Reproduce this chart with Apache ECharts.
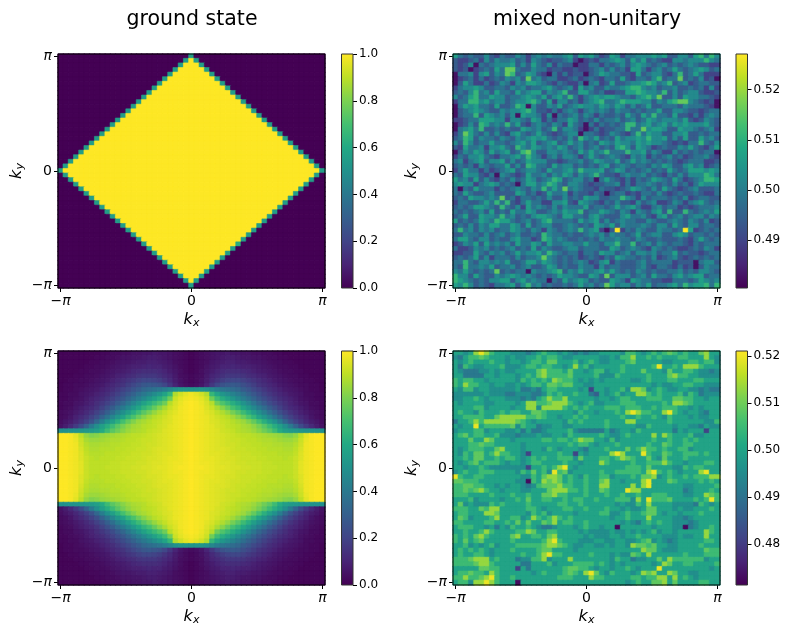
<!DOCTYPE html>
<html>
<head>
<meta charset="utf-8">
<style>html,body{margin:0;padding:0;background:#fff}#chart{width:789px;height:635px}</style>
<script src="https://cdn.jsdelivr.net/npm/echarts@6/dist/echarts.min.js"></script>
</head>
<body>
<div id="chart"></div>
<script>
// cell values, rows top to bottom, one digit per cell (index into the panel's levels)
var groundRows = [
"0000000000 0000000000 0000050000 0000000000 0000000000 0",
"0000000000 0000000000 0000595000 0000000000 0000000000 0",
"0000000000 0000000000 0005999500 0000000000 0000000000 0",
"0000000000 0000000000 0059999950 0000000000 0000000000 0",
"0000000000 0000000000 0599999995 0000000000 0000000000 0",
"0000000000 0000000000 5999999999 5000000000 0000000000 0",
"0000000000 0000000005 9999999999 9500000000 0000000000 0",
"0000000000 0000000059 9999999999 9950000000 0000000000 0",
"0000000000 0000000599 9999999999 9995000000 0000000000 0",
"0000000000 0000005999 9999999999 9999500000 0000000000 0",
"0000000000 0000059999 9999999999 9999950000 0000000000 0",
"0000000000 0000599999 9999999999 9999995000 0000000000 0",
"0000000000 0005999999 9999999999 9999999500 0000000000 0",
"0000000000 0059999999 9999999999 9999999950 0000000000 0",
"0000000000 0599999999 9999999999 9999999995 0000000000 0",
"0000000000 5999999999 9999999999 9999999999 5000000000 0",
"0000000005 9999999999 9999999999 9999999999 9500000000 0",
"0000000059 9999999999 9999999999 9999999999 9950000000 0",
"0000000599 9999999999 9999999999 9999999999 9995000000 0",
"0000005999 9999999999 9999999999 9999999999 9999500000 0",
"0000059999 9999999999 9999999999 9999999999 9999950000 0",
"0000599999 9999999999 9999999999 9999999999 9999995000 0",
"0005999999 9999999999 9999999999 9999999999 9999999500 0",
"0059999999 9999999999 9999999999 9999999999 9999999950 0",
"0599999999 9999999999 9999999999 9999999999 9999999995 0",
"5999999999 9999999999 9999999999 9999999999 9999999999 5",
"0599999999 9999999999 9999999999 9999999999 9999999995 0",
"0059999999 9999999999 9999999999 9999999999 9999999950 0",
"0005999999 9999999999 9999999999 9999999999 9999999500 0",
"0000599999 9999999999 9999999999 9999999999 9999995000 0",
"0000059999 9999999999 9999999999 9999999999 9999950000 0",
"0000005999 9999999999 9999999999 9999999999 9999500000 0",
"0000000599 9999999999 9999999999 9999999999 9995000000 0",
"0000000059 9999999999 9999999999 9999999999 9950000000 0",
"0000000005 9999999999 9999999999 9999999999 9500000000 0",
"0000000000 5999999999 9999999999 9999999999 5000000000 0",
"0000000000 0599999999 9999999999 9999999995 0000000000 0",
"0000000000 0059999999 9999999999 9999999950 0000000000 0",
"0000000000 0005999999 9999999999 9999999500 0000000000 0",
"0000000000 0000599999 9999999999 9999995000 0000000000 0",
"0000000000 0000059999 9999999999 9999950000 0000000000 0",
"0000000000 0000005999 9999999999 9999600000 0000000000 0",
"0000000000 0000000599 9999999999 9995000000 0000000000 0",
"0000000000 0000000059 9999999999 9950000000 0000000000 0",
"0000000000 0000000005 9999999999 9500000000 0000000000 0",
"0000000000 0000000000 5999999999 5000000000 0000000000 0",
"0000000000 0000000000 0599999995 0000000000 0000000000 0",
"0000000000 0000000000 0059999950 0000000000 0000000000 0",
"0000000000 0000000000 0005999500 0000000000 0000000000 0",
"0000000000 0000000000 0000595000 0000000000 0000000000 0",
"0000000000 0000000000 0000050000 0000000000 0000000000 0"
];
// upper left quarter of the lower left panel in percent, the picture mirrors it both ways
var quenchQuarter = [
[1,1,1,1,1,1,1,1,2,2,3,3,4,4,5,5,6,6,7,6,6,5,4,3,2,1],
[1,1,1,1,1,1,1,2,2,3,3,4,5,5,6,6,7,8,8,7,6,5,4,3,2,1],
[1,1,1,1,1,1,2,2,3,3,4,5,6,6,7,8,8,9,9,8,7,6,4,3,2,1],
[1,1,1,1,1,2,2,3,3,4,5,6,7,8,9,9,10,11,10,10,8,7,5,3,2,1],
[1,1,1,1,2,2,3,3,4,5,6,7,8,9,11,12,13,13,13,12,10,8,6,4,2,1],
[1,1,1,2,2,3,3,4,5,6,7,9,10,12,13,15,16,16,16,14,12,10,7,4,3,2],
[1,1,2,2,3,3,4,5,6,7,9,11,13,15,17,19,21,21,20,18,15,12,8,5,3,2],
[1,2,2,3,3,4,5,6,7,9,11,13,15,18,21,24,27,28,27,25,21,16,10,6,4,3],
[1,2,2,3,4,5,6,7,9,11,13,16,19,22,26,29,33,35,37,39,42,46,50,52,52,52],
[2,2,3,3,5,6,7,9,11,13,16,19,23,27,31,36,40,44,48,52,58,66,88,93,96,98],
[2,2,3,4,5,7,9,11,13,16,19,23,27,32,37,42,47,52,57,62,68,78,92,96,98,99],
[2,3,3,5,6,8,10,13,16,19,23,28,33,39,45,51,57,62,67,72,78,89,94,97,99,100],
[2,3,4,6,8,10,12,15,19,24,29,35,41,47,53,59,65,70,76,82,87,92,95,98,99,100],
[3,4,5,7,9,12,15,19,24,30,36,43,49,55,62,68,74,79,84,88,91,94,96,98,99,100],
[3,4,6,9,12,15,19,24,31,38,45,52,58,65,71,77,82,86,89,91,93,95,97,98,99,100],
[4,6,8,11,15,19,25,33,42,50,56,63,70,76,81,85,87,89,91,92,94,95,97,98,99,100],
[5,8,12,17,23,31,41,49,56,62,68,74,79,83,86,87,89,90,91,93,94,96,97,98,99,100],
[50,50,51,51,52,53,54,56,61,68,74,78,82,85,87,88,89,91,92,93,95,96,97,98,99,100],
[100,100,99,96,90,84,81,82,84,85,86,87,88,89,90,90,91,92,93,94,95,96,97,98,99,100],
[100,100,99,97,92,87,85,85,86,87,88,88,89,90,90,91,92,92,93,94,95,96,97,98,99,100],
[100,100,99,98,93,89,87,87,88,88,89,89,90,90,91,91,92,93,93,94,95,96,97,98,99,100],
[100,100,99,98,94,90,88,88,89,89,89,90,90,91,91,92,92,93,94,95,95,96,97,98,99,100],
[100,100,99,98,95,91,89,89,89,90,90,90,91,91,92,92,93,93,94,95,96,96,97,98,99,100],
[100,100,99,98,95,92,90,89,90,90,90,91,91,92,92,92,93,94,94,95,96,97,97,98,99,100],
[100,100,99,98,96,92,90,90,90,90,91,91,92,92,92,93,93,94,95,95,96,97,98,98,99,100],
[100,100,99,98,96,92,90,90,90,91,91,91,92,92,93,93,94,94,95,96,96,97,98,99,99,100]
];
var mixedTopRows = [
"5323224213 2243134343 3452545312 5413344454 5224425636 4",
"2112314243 3423143212 2341012133 4542535232 1144344464 3",
"2124032344 4524253241 3220113313 2342454323 4232343221 1",
"2120123253 7732243312 2112112342 4231553134 2353234542 3",
"0334145243 7623542103 1312202354 3322152344 2136235311 1",
"0123131232 4342734233 1123123213 3252133246 2337232412 0",
"0253113124 3143554321 3211303412 5223445653 4623412332 2",
"1344542233 2434233453 2341534224 3345664342 3342232314 1",
"2324634253 3253455243 4622553231 1225565443 6242344211 2",
"4235633544 2334543524 5363134545 5433245647 2242544332 1",
"1336645344 2344564251 4423134563 3465554424 3567743212 0",
"0354533252 2365042243 5234544354 3542423522 3332433321 0",
"0234543224 3445642213 1343134343 2433232335 2244322123 3",
"0233625434 2405443140 3234243132 2325325363 3252213134 3",
"1123355544 1443254131 3354232423 3423423543 4443521243 2",
"0124265343 6352134324 3153203132 3236634534 5354544453 2",
"0345362232 3225434236 2443101312 2336337455 4225443234 1",
"1375324242 1453235321 2344033212 4321363544 2244522323 3",
"2365243324 3243454532 3242643523 2534454644 5242522534 2",
"4264233533 2345352345 2353423254 3544354544 3212133632 4",
"2153341445 3264354343 5423423423 2564254312 3224353213 5",
"0243542534 5236742244 3432535346 3336445243 1142323233 0",
"1324453213 3453643134 2443135323 4321434132 3423123342 1",
"3413452445 2423544422 1233423543 3523534323 2321233311 2",
"2323143233 5242653325 3442323245 2343233243 5422453412 3",
"1353313123 4523443253 3453644452 3542323423 2532355545 4",
"3254421304 3212533424 3542434632 2134334232 1324244465 3",
"5342524213 2423542346 5234423035 3213132354 3253123466 5",
"4544134542 3203553465 3244321223 3413133432 3242313544 4",
"3032533313 2343243635 3734322132 2123543242 5321234222 3",
"3253223422 2254231253 3413221320 2331213324 2123223211 3",
"2325443437 2313323242 2423254422 3364314233 3232412332 2",
"1332235363 6213533114 4521543213 2422142341 1243134532 3",
"2323554326 3241534324 2433352332 3534531134 2331212333 4",
"3232342523 2533542234 3544623354 3243143245 2622632343 5",
"2352254436 3423245543 2553324532 2245334214 5234234424 3",
"5232354365 5323423563 3332534524 2343322432 2343243241 2",
"2324243553 3542523442 2343232543 5243334324 4253244233 2",
"3634243423 3543243143 2343634510 2913243224 3323951232 3",
"2243324234 2342232643 3232234342 4332352344 2245423323 2",
"3553244232 2453312653 4322323243 3433243223 2223213532 3",
"1243525343 4253354253 3443353324 4633623424 3233213233 3",
"3112434232 3423252432 2344233322 5423432143 2321123243 1",
"1122532434 2353445364 3233133254 4234244342 3352322123 3",
"2323524133 3242334743 2323123213 2543323241 2342123232 3",
"3363244343 5223553543 2323431245 1322234233 3312220344 2",
"3263343523 3423422354 2322433142 3322234213 3213120243 3",
"4353232372 3233043345 6243533453 5323243232 2334232443 2",
"6442532243 4543432323 5443225427 2444234253 3245345523 3",
"6543232445 5245343303 2534542322 5431543322 1133323543 4",
"5464232133 4524634232 2323534237 5344243523 3453645563 6"
];
var mixedBottomRows = [
"5545898655 5444345655 4543434455 5546654565 6765655785 5",
"4356676555 4544556566 5445555544 5466855656 5556655585 4",
"5456555655 4554566577 5556456544 5556755555 4455566566 4",
"5365445556 4445665665 5458564555 5565555569 5565888655 5",
"5433344545 4455557866 6575545664 5565557555 4755665443 4",
"5533335545 5545657866 6675555644 4655555655 5786655444 4",
"6566554555 5546565658 7665454545 5555445655 5665556655 5",
"6586655455 4454566577 6775544555 5555555545 4455665544 4",
"5466455444 4453343566 5555451554 5564887456 5445544343 3",
"4444445444 3344433465 6556553254 5645588656 5556465344 4",
"4455654555 4443435686 6855555455 4566555666 5577665545 5",
"5455554455 5545886678 8865456445 5566655555 6588765555 5",
"5555664555 5455884888 8656565556 6656665565 6665545455 5",
"5655465556 5665577655 5554655455 5658986655 8965455435 5",
"5566665578 8888667655 4556565555 5565565565 4655545445 5",
"3556868888 8876545555 5465655556 5558855555 5655555544 6",
"5455956666 6746553445 5445555556 5555544655 5545544354 4",
"4555664555 4453533455 5564333335 3455465555 5535455515 5",
"5675665564 4434445445 5465555565 4456555585 8655564455 5",
"5557558755 5455555665 6656877554 6455555565 5655656555 5",
"5556676655 5554555555 5565665455 5655555655 7655665555 5",
"5456665578 5554555465 4555435556 5557568665 6556645555 5",
"5465775686 6554155555 6551545555 8985559655 7655666565 5",
"5565775565 6654565655 6664755566 5687655754 7555655555 5",
"5456756665 4554566555 5655455586 5555655666 8655455566 5",
"5545565444 4444155656 8954555555 5556665755 5544656655 5",
"4565566655 5546575649 6745555565 5666665896 5654555895 5",
"9655665555 5554465788 7565465566 4555657784 5655656668 8",
"7766655555 5544065878 7565565578 5545558955 5765555656 5",
"6677665545 4554346777 8665565588 5555858955 5555445555 6",
"6676786554 5554455578 8866565576 5559885555 5555345556 5",
"6665555655 5655655778 6655565556 5565565566 6555445587 6",
"5556455554 5565755665 5656655655 5666485966 6755556569 6",
"5745444656 5555655555 6655655555 5454465855 5544443654 5",
"6665576885 5555665455 5665565556 5545445775 5545445556 5",
"5665558875 5555465645 5554555566 4456556775 4554555655 5",
"5764555685 5664586568 6565555555 4556555855 5544345555 5",
"6655556655 6575755768 5665565555 5545435656 5544434555 5",
"5666554535 4655654334 5554565545 5055555545 5544034556 5",
"5565568655 5566875566 5555454444 5445454564 5545555586 5",
"6565786555 5785566578 5555545444 5545565555 4445445585 5",
"6575675555 5655555689 6555444554 4554456745 4345555566 5",
"5564545645 5566666788 7654455445 4554877675 5445555655 5",
"5656565455 5655556775 5554555555 5555558775 4445555576 6",
"5655665455 5556556896 6555556555 4544765855 5555655566 6",
"6667888565 5534466845 5585555555 4655344557 5866666645 5",
"6666788655 5553355564 5556666565 4545555545 8755665555 6",
"5555577665 5515355555 5677665455 4556545559 5555555554 5",
"5667665865 5555545655 5676589754 6555458785 5875544555 5",
"6686678965 5655555555 6665558665 5555665668 8585654555 5",
"5664889865 5505555555 5555555555 5554565577 8575555665 5"
];
var titles = ['ground state', 'mixed non-unitary'];
var groundRange = [0, 1];
var quenchRange = [0, 1];
var mixedTopRange = [0.4805, 0.5271];
var mixedBottomRange = [0.4713, 0.5211];
var groundLevels = [0, 0.11, 0.22, 0.33, 0.44, 0.55, 0.62, 0.78, 0.89, 1];
var mixedTopLevels = [0.05, 0.2, 0.29, 0.38, 0.47, 0.56, 0.66, 0.76, 0.88, 1];
var mixedBottomLevels = [0.03, 0.2, 0.3, 0.4, 0.49, 0.58, 0.68, 0.75, 0.84, 0.97];
var unitTicks = [0, 0.2, 0.4, 0.6, 0.8, 1];
var mixedTopTicks = [0.49, 0.50, 0.51, 0.52];
var mixedBottomTicks = [0.48, 0.49, 0.50, 0.51, 0.52];
var kLabels = {0: '{m|\u2212}{p|\u03c0}', 25: '0', 50: '{p|\u03c0}'};
var viridis = ['#440154','#482475','#414487','#355f8d','#2a788e','#21918c','#22a884','#44bf70','#7ad151','#bddf26','#fde725'];

function cell(c, y, value, range) {
    // filled and stroked in the same colour so no seams show between the cells
    var col = echarts.color.lerp((value - range[0]) / (range[1] - range[0]), viridis);
    return {value: [c, y, value], itemStyle: {color: col, borderColor: col, borderWidth: 0.6}};
}
function digitCells(rows, range, levels) {
    var out = [];
    rows.forEach(function(row, r) {
        row.replace(/ /g, '').split('').forEach(function(d, c) {
            out.push(cell(c, rows.length - 1 - r, range[0] + (range[1] - range[0]) * levels[Number(d)], range));
        });
    });
    return out;
}
function quarterCells(quarter, range) {
    var out = [];
    for (var r = 0; r < 51; r++) {
        for (var c = 0; c < 51; c++) {
            var qr = r <= 25 ? r : 50 - r;
            var qc = c <= 25 ? c : 50 - c;
            out.push(cell(c, 50 - r, quarter[qr][qc] / 100, range));
        }
    }
    return out;
}

var cats = [];
for (var i = 0; i < 51; i++) cats.push(i);
var isKTick = function(i) { return kLabels[i] !== undefined; };

var panels = [
    {left: 58, top: 54, cells: digitCells(groundRows, groundRange, groundLevels), range: groundRange, ticks: unitTicks, digits: 1, cbLeft: 341.5},
    {left: 453, top: 54, cells: digitCells(mixedTopRows, mixedTopRange, mixedTopLevels), range: mixedTopRange, ticks: mixedTopTicks, digits: 2, cbLeft: 736},
    {left: 58, top: 351, cells: quarterCells(quenchQuarter, quenchRange), range: quenchRange, ticks: unitTicks, digits: 1, cbLeft: 341.5},
    {left: 453, top: 351, cells: digitCells(mixedBottomRows, mixedBottomRange, mixedBottomLevels), range: mixedBottomRange, ticks: mixedBottomTicks, digits: 2, cbLeft: 736}
];

var FONT = 'DejaVu Sans';
var option = {
    animation: false,
    backgroundColor: '#fff',
    textStyle: {fontFamily: FONT},
    title: [
        {text: titles[0], left: 187, top: 4, textAlign: 'center', textStyle: {fontSize: 20.5, fontWeight: 'normal', color: '#000', fontFamily: FONT}},
        {text: titles[1], left: 582, top: 4, textAlign: 'center', textStyle: {fontSize: 20.5, fontWeight: 'normal', color: '#000', fontFamily: FONT}}
    ],
    grid: [], xAxis: [], yAxis: [], series: []
};

function kAxis(gi, sub, gap) {
    return {
        type: 'category', gridIndex: gi, data: cats,
        name: '{k|k}{s|' + sub + '}',
        nameLocation: 'middle', nameGap: gap,
        nameTextStyle: {
            rich: {
                k: {fontSize: 16, fontStyle: 'italic', fontFamily: FONT, color: '#000'},
                s: {fontSize: 11, fontStyle: 'italic', fontFamily: FONT, color: '#000', padding: [7, 0, 0, 0]}
            }
        },
        axisLine: {show: false},
        axisTick: {show: true, alignWithLabel: true, interval: isKTick, length: 4, lineStyle: {color: '#000', width: 1}},
        splitLine: {show: false}, splitArea: {show: false},
        axisLabel: {
            show: true, interval: isKTick, margin: 6, fontSize: 14, color: '#000', fontFamily: FONT,
            formatter: function(v) { return kLabels[v]; },
            rich: {p: {fontSize: 14, fontStyle: 'italic', fontFamily: FONT, color: '#000'}, m: {fontSize: 14, fontFamily: FONT, color: '#000'}}
        }
    };
}

panels.forEach(function(p, n) {
    var gi = n * 2, cb = gi + 1;
    option.grid.push({left: p.left, top: p.top, width: 267, height: 234, show: true, z: 5, backgroundColor: 'transparent', borderColor: '#000', borderWidth: 1});
    option.grid.push({left: p.cbLeft, top: p.top, width: 11.5, height: 234, show: true, z: 5, backgroundColor: 'transparent', borderColor: '#333', borderWidth: 1});
    option.xAxis.push(kAxis(gi, 'x', 23));
    option.yAxis.push(kAxis(gi, 'y', 32));
    option.xAxis.push({type: 'category', gridIndex: cb, data: [0], show: false});
    option.yAxis.push({
        type: 'value', gridIndex: cb, position: 'right', min: p.range[0], max: p.range[1],
        splitLine: {show: false}, axisLine: {show: false},
        axisTick: {show: true, length: 4, lineStyle: {color: '#000', width: 1}, customValues: p.ticks},
        axisLabel: {show: true, margin: 6, fontSize: 12, color: '#000', fontFamily: FONT, customValues: p.ticks,
            formatter: (function(d) { return function(v) { return v.toFixed(d); }; })(p.digits)}
    });
    option.series.push({type: 'heatmap', xAxisIndex: gi, yAxisIndex: gi, data: p.cells, silent: true, progressive: 0, emphasis: {disabled: true}});
    option.series.push({
        type: 'bar', xAxisIndex: cb, yAxisIndex: cb, barWidth: '100%', silent: true, data: [p.range[1]],
        itemStyle: {color: new echarts.graphic.LinearGradient(0, 1, 0, 0, viridis.map(function(col, i) { return {offset: i / (viridis.length - 1), color: col}; }))},
        markArea: {silent: true, itemStyle: {color: '#b5a8b5'}, data: [[{yAxis: p.range[0]}, {yAxis: p.range[0] + (p.range[1] - p.range[0]) * 0.009}]]}
    });
});

var myChart = echarts.init(document.getElementById('chart'));
myChart.setOption(option);
</script>
</body>
</html>
